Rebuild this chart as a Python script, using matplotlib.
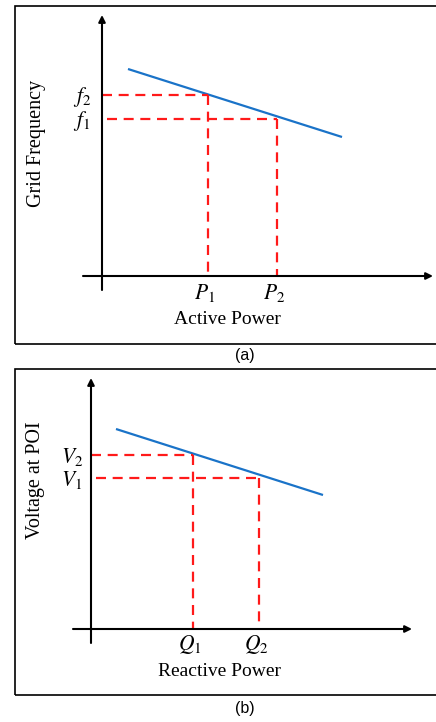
import matplotlib
matplotlib.use("Agg")
import matplotlib.pyplot as plt
from matplotlib.patches import Rectangle

plt.rcParams['mathtext.fontset'] = 'stix'

# ---- data (schematic units, origin at axis crossing) ----
# Panel (a): frequency droop
droop_a_x = [26, 240]
droop_a_y = [207, 139]
p_labels = ["$P_1$", "$P_2$"]
p_vals = [106, 175]
f_labels = ["$f_2$", "$f_1$"]
f_vals = [181, 157]
f_start = [0, 5]
xlabel_a = "Active Power"
ylabel_a = "Grid Frequency"
caption_a = "(a)"

# Panel (b): voltage droop
droop_b_x = [25, 232]
droop_b_y = [200, 134]
q_labels = ["$Q_1$", "$Q_2$"]
q_vals = [102, 168]
v_labels = ["$V_2$", "$V_1$"]
v_vals = [174, 151]
v_start = [0, 5]
xlabel_b = "Reactive Power"
ylabel_b = "Voltage at POI"
caption_b = "(b)"

W, H = 436, 722
fig = plt.figure(figsize=(W / 100, H / 100), dpi=100)
fig.patch.set_facecolor("white")

BLUE = "#1a73c8"
RED = "#ff1a1a"
LW_AX = 1.5
serif = ["Liberation Serif", "DejaVu Serif"]


def panel(top_px, bot_px, ox, oy, xspan, yspan, dx, dy, xs, ys,
          xl, yl, xlab_pos, ylab_pos, xlab, ylab, lab_x_off, lab_y_off):
    ax = fig.add_axes([0, 1 - bot_px / H, 1, (bot_px - top_px) / H])
    ax.set_xlim(-ox, W - ox)
    ax.set_ylim(oy - bot_px, oy - top_px)
    ax.axis("off")
    # axes with arrows
    ax.annotate("", xy=(xspan[1], 0), xytext=(xspan[0], 0),
                arrowprops=dict(arrowstyle="-|>", color="black", lw=LW_AX,
                                mutation_scale=10, shrinkA=0, shrinkB=0))
    ax.annotate("", xy=(0, yspan[1]), xytext=(0, yspan[0]),
                arrowprops=dict(arrowstyle="-|>", color="black", lw=LW_AX,
                                mutation_scale=10, shrinkA=0, shrinkB=0))
    # droop line
    ax.plot(dx, dy, color=BLUE, lw=1.6, solid_capstyle="butt")
    # dashed guides
    for x, y, s in zip(xs, ys, [0, 1]):
        ax.plot([ylab_pos[s], x], [y, y], color=RED, lw=1.6,
                dashes=(4.5, 3))
        ax.plot([x, x], [y, 0], color=RED, lw=1.6, dashes=(4.5, 3))
    for x, lab in zip(xs, xl):
        ax.text(x - 3, -lab_y_off, lab, fontsize=15.5, ha="center", va="center")
    for y, lab in zip(ys, yl):
        ax.text(-lab_x_off, y - 2, lab, fontsize=15.5, ha="center", va="center")
    ax.text(xlab_pos[0], xlab_pos[1], xlab, fontsize=14, family=serif,
            ha="center", va="center")
    ax.text(ylab_pos[2], ylab_pos[3], ylab, fontsize=14.5, family=serif,
            ha="center", va="center", rotation=90)
    return ax


# Panel (a): origin pixel (102, 276)
panel(0, 360, 102, 276, (-19, 331), (-14, 261),
      droop_a_x, droop_a_y, p_vals, f_vals, p_labels, f_labels,
      (227 - 102, 276 - 320), (f_start[0], f_start[1], 37 - 102, 276 - 143),
      xlabel_a, ylabel_a, 20, 17)

# Panel (b): origin pixel (91, 629)
panel(360, 722, 91, 629, (-18, 321), (-14, 251),
      droop_b_x, droop_b_y, q_vals, v_vals, q_labels, v_labels,
      (219 - 91, 629 - 672), (v_start[0], v_start[1], 35 - 91, 629 - 480),
      xlabel_b, ylabel_b, 19, 16)

# borders
for top, bot in [(6, 344), (369, 695)]:
    fig.patches.append(Rectangle((15 / W, 1 - bot / H), (W + 5 - 15) / W,
                                 (bot - top) / H, transform=fig.transFigure,
                                 fill=False, ec="black", lw=1.2))

fig.text(245 / W, 1 - 355 / H, caption_a, fontsize=11.5,
         family=["Liberation Sans", "DejaVu Sans"], ha="center", va="center")
fig.text(245 / W, 1 - 709 / H, caption_b, fontsize=11.5,
         family=["Liberation Sans", "DejaVu Sans"], ha="center", va="center")

fig.savefig("out.png", dpi=100, facecolor="white")
